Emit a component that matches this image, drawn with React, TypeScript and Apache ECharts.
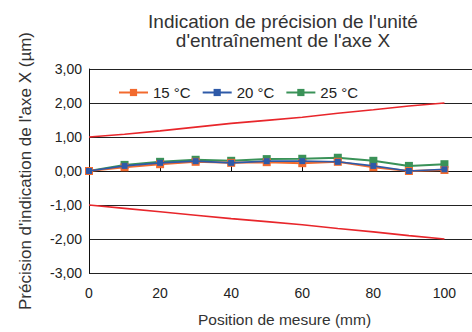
import React, { useEffect, useRef } from "react";
import * as echarts from "echarts";

const positions = [0, 10, 20, 30, 40, 50, 60, 70, 80, 90, 100];
const t15 = [0, 0.11, 0.2, 0.27, 0.24, 0.26, 0.23, 0.27, 0.11, 0.0, 0.03];
const t20 = [0, 0.15, 0.24, 0.29, 0.24, 0.29, 0.29, 0.27, 0.15, 0.0, 0.05];
const t25 = [0, 0.18, 0.27, 0.33, 0.3, 0.35, 0.36, 0.39, 0.3, 0.15, 0.2];
const upperLimit = [1.0, 1.08, 1.18, 1.29, 1.4, 1.49, 1.58, 1.7, 1.8, 1.91, 2.0];
const lowerLimit = [-1.0, -1.1, -1.2, -1.3, -1.4, -1.49, -1.58, -1.69, -1.79, -1.9, -2.0];
const seriesNames = ["15 °C", "20 °C", "25 °C"];
const xTicks = [0, 20, 40, 60, 80, 100];
const titleLines = ["Indication de précision de l'unité", "d'entraînement de l'axe X"];

const FONT = "'Liberation Sans', Arial, sans-serif";

const pairs = (ys: number[]) => positions.map((x, i) => [x, ys[i]]);

export default function App() {
  const ref = useRef<HTMLDivElement>(null);
  useEffect(() => {
    if (!ref.current) return;
    const chart = echarts.init(ref.current, null, { renderer: "svg" });
    const mk = (name: string, data: number[], color: string, size: number, z: number, width: number) => ({
      name,
      type: "line",
      data: pairs(data),
      symbol: "rect",
      symbolSize: size,
      z,
      lineStyle: { color, width },
      itemStyle: { color },
    });
    chart.setOption({
      animation: false,
      textStyle: { fontFamily: FONT },
      graphic: titleLines.map((t, i) => ({
        type: "text",
        x: 283,
        y: i === 0 ? 21 : 40.5,
        style: {
          text: t,
          font: `19px ${FONT}`,
          fill: "#333",
          align: "center",
          verticalAlign: "middle",
        },
      })),
      legend: {
        data: seriesNames,
        left: 113,
        top: 80,
        itemWidth: 29,
        itemHeight: 9,
        itemGap: 11,
        textStyle: { fontSize: 15, color: "#222", fontFamily: FONT },
      },
      grid: { left: 89, top: 69, width: 391, height: 205 },
      xAxis: {
        type: "value",
        min: 0,
        max: 110,
        interval: 20,
        name: "Position de mesure (mm)",
        nameLocation: "middle",
        nameGap: 38,
        nameTextStyle: { fontSize: 15.5, color: "#333", fontFamily: FONT },
        axisLine: { show: true, lineStyle: { color: "#111", width: 1 } },
        axisTick: { show: true, inside: true, length: 5, lineStyle: { color: "#111" } },
        axisLabel: {
          fontSize: 14,
          color: "#222",
          margin: 13,
          fontFamily: FONT,
          formatter: (v: number) => (xTicks.includes(v) ? String(v) : ""),
        },
        splitLine: { show: false },
      },
      yAxis: {
        type: "value",
        min: -3,
        max: 3,
        interval: 1,
        name: "Précision d'indication de l'axe X (µm)",
        nameLocation: "middle",
        nameGap: 48,
        nameTextStyle: { fontSize: 17, color: "#333", fontFamily: FONT, padding: [0, 0, 7, 0] },
        axisLine: { show: true, lineStyle: { color: "#111", width: 1 } },
        axisTick: { show: false },
        axisLabel: {
          fontSize: 14,
          color: "#222",
          margin: 7,
          fontFamily: FONT,
          formatter: (v: number) => v.toFixed(2).replace(".", ","),
        },
        splitLine: { show: true, lineStyle: { color: "#222", width: 1 } },
      },
      series: [
        {
          name: "upper",
          type: "line",
          data: pairs(upperLimit),
          symbol: "none",
          lineStyle: { color: "#e8262b", width: 1.6 },
          z: 1,
        },
        {
          name: "lower",
          type: "line",
          data: pairs(lowerLimit),
          symbol: "none",
          lineStyle: { color: "#e8262b", width: 1.6 },
          z: 1,
        },
        mk(seriesNames[0], t15, "#f26a2e", 8, 3, 2),
        mk(seriesNames[1], t20, "#2e5aa8", 6, 4, 1.6),
        mk(seriesNames[2], t25, "#3a9258", 8, 2, 2),
      ],
    });
    return () => chart.dispose();
  }, []);
  return (
    <div style={{ position: "fixed", left: 0, top: 0, width: 472, height: 332, overflow: "hidden", background: "#fff" }}>
      <div ref={ref} style={{ width: 500, height: 332 }} />
    </div>
  );
}
